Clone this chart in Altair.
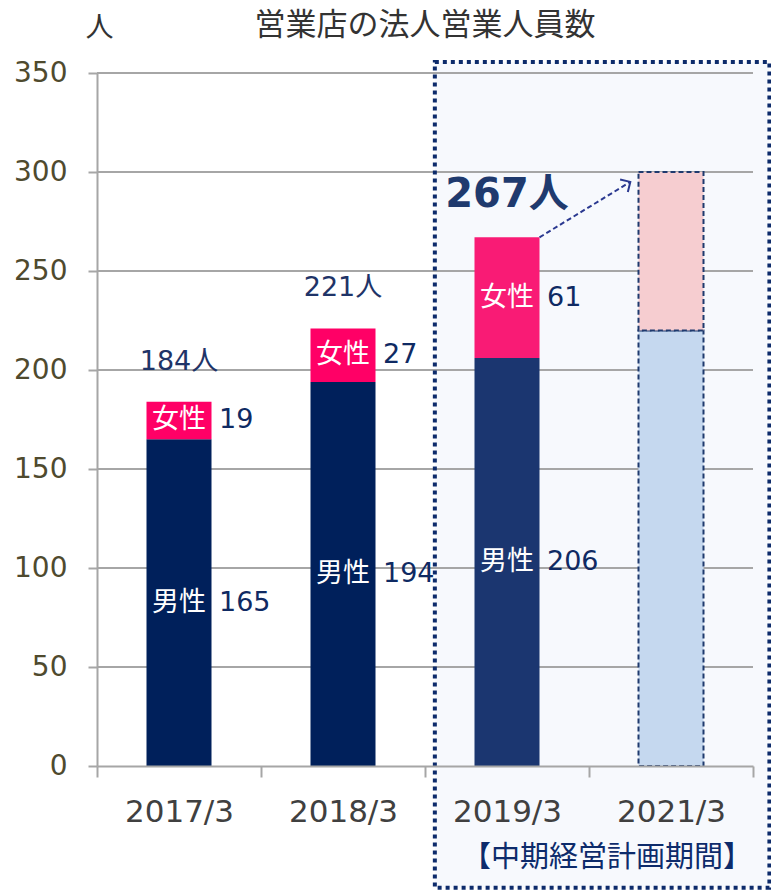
import math
import altair as alt
import pandas as pd

# ---- data ----
categories = ["2017/3", "2018/3", "2019/3", "2021/3"]
male = [165, 194, 206, 220]
female = [19, 27, 61, 80]
is_plan = [False, False, False, True]
y_ticks = [0, 50, 100, 150, 200, 250, 300, 350]
period_label = "【中期経営計画期間】"
period_cats = ["2019/3", "2021/3"]
highlight_cat = "2019/3"
title_text = "営業店の法人営業人員数"
unit_text = "人"

FONT = "Noto Sans CJK JP"
NUMFONT = "DejaVu Sans, Noto Sans CJK JP"
W, H = 656, 693
BAR = 65

# ---- tables ----
seg_rows = []
for c, m, f, p in zip(categories, male, female, is_plan):
    seg_rows.append(dict(cat=c, key=c + "|男性", y0=0, y1=m, plan=p))
    seg_rows.append(dict(cat=c, key=c + "|女性", y0=m, y1=m + f, plan=p))
seg = pd.DataFrame(seg_rows)

keys = [r["key"] for r in seg_rows]
col_map = {
    "2017/3|男性": "#00205b", "2017/3|女性": "#ff0066",
    "2018/3|男性": "#00205b", "2018/3|女性": "#ff0066",
    "2019/3|男性": "#1b3670", "2019/3|女性": "#f91b75",
    "2021/3|男性": "#c5d8ef", "2021/3|女性": "#f6cdd0",
}
color_scale = alt.Scale(domain=keys, range=[col_map[k] for k in keys])

lab_rows = []
for c, m, f, p in zip(categories, male, female, is_plan):
    if p:
        continue
    lab_rows.append(dict(cat=c, name="男性", val=str(m), ypos=m / 2))
    lab_rows.append(dict(cat=c, name="女性", val=str(f), ypos=m + f / 2))
labs = pd.DataFrame(lab_rows)

tot = pd.DataFrame([
    dict(cat=c, total=m + f, txt=f"{m + f}人", hl=(c == highlight_cat))
    for c, m, f, p in zip(categories, male, female, is_plan) if not p
])

xband = alt.Scale(domain=categories, paddingInner=0, paddingOuter=0)
yscale = alt.Scale(domain=[0, 350], nice=False, zero=True)
xq = alt.Scale(domain=[0, len(categories)], nice=False, zero=False)

yaxis = alt.Axis(values=y_ticks, labelFont=NUMFONT, labelFontSize=28,
                 labelColor="#4f4a2e", labelPadding=21, tickSize=9,
                 tickColor="#a6a6a6", tickWidth=2, domainColor="#a6a6a6",
                 domainWidth=2, grid=False, title=unit_text, zindex=1,
                 titleAngle=0, titleX=2, titleY=-45, titleAlign="center",
                 titleBaseline="middle", titleFont=FONT, titleFontSize=28,
                 titleFontWeight="normal", titleColor="#333333")


def Y(field):
    return alt.Y(field, scale=yscale, axis=yaxis)


# ---- highlighted period box (quantitative overlay on band indices) ----
i0 = categories.index(period_cats[0])
i1 = categories.index(period_cats[-1]) + 1
box = pd.DataFrame([dict(x0=i0 + 0.06, x1=i1 + 0.1, ya=355.5, yb=-61.5,
                         xm=(i0 + i1) / 2 + 0.11, ym=-46.5, txt=period_label)])

box_fill = alt.Chart(box).mark_rect(fill="#f7f9fd", stroke=None).encode(
    x=alt.X("x0:Q", scale=xq, axis=None), x2="x1:Q",
    y=Y("ya:Q"), y2="yb:Q")

box_border = alt.Chart(box).mark_rect(
    fill=None, fillOpacity=0, stroke="#0d2b6b", strokeWidth=4, strokeDash=[4, 4]
).encode(
    x=alt.X("x0:Q", scale=xq, axis=None), x2="x1:Q",
    y=Y("ya:Q"), y2="yb:Q")

box_text = alt.Chart(box).mark_text(
    font=FONT, fontSize=29, color="#0d2b6b", baseline="middle", align="center"
).encode(
    x=alt.X("xm:Q", scale=xq, axis=None),
    y=Y("ym:Q"), text="txt:N")

# ---- gridlines ----
grid = alt.Chart(pd.DataFrame(dict(v=y_ticks[1:]))).mark_rule(
    color="#a6a6a6", strokeWidth=2
).encode(x=alt.value(0), x2=alt.value(W), y=Y("v:Q"))

# ---- bars ----
bars_actual = alt.Chart(seg[~seg.plan]).mark_bar(size=BAR).encode(
    x=alt.X("cat:N", scale=xband, sort=categories, title=None,
            axis=alt.Axis(labelFont=NUMFONT, labelFontSize=31, labelColor="#404040",
                          labelPadding=20, tickBand="extent", tickSize=11,
                          tickColor="#a6a6a6", tickWidth=2, domainColor="#a6a6a6",
                          domainWidth=2, labelAngle=0, grid=False, zindex=1)),
    y=Y("y0:Q"), y2="y1:Q",
    color=alt.Color("key:N", scale=color_scale, legend=None))

bars_plan = alt.Chart(seg[seg.plan]).mark_bar(
    size=BAR, stroke="#1f3a6e", strokeWidth=2, strokeDash=[5, 3]
).encode(
    x=alt.X("cat:N", scale=xband, sort=categories, axis=None),
    y=Y("y0:Q"), y2="y1:Q",
    color=alt.Color("key:N", scale=color_scale, legend=None))

# ---- labels ----
name_text = alt.Chart(labs).mark_text(
    font=FONT, fontSize=27, color="white", align="center", baseline="middle"
).encode(x=alt.X("cat:N", scale=xband, sort=categories, axis=None),
         y=Y("ypos:Q"), text="name:N")

val_text = alt.Chart(labs).mark_text(
    font=NUMFONT, fontSize=27, color="#0f2a63", align="left", baseline="middle", dx=40
).encode(x=alt.X("cat:N", scale=xband, sort=categories, axis=None),
         y=Y("ypos:Q"), text="val:N")

tot_norm = alt.Chart(tot[~tot.hl]).mark_text(
    font=NUMFONT, fontSize=27, color="#1f3468", align="center", baseline="bottom", dy=-26
).encode(x=alt.X("cat:N", scale=xband, sort=categories, axis=None),
         y=Y("total:Q"), text="txt:N")

tot_hl = alt.Chart(tot[tot.hl]).mark_text(
    font=NUMFONT, fontSize=40, fontWeight="bold", color="#1f3a6e", align="center",
    baseline="bottom", dy=-22
).encode(x=alt.X("cat:N", scale=xband, sort=categories, axis=None),
         y=Y("total:Q"), text="txt:N")

# ---- arrow from 2019 total toward 2021 target ----
hi = categories.index(highlight_cat)
pi = len(categories) - 1
half = BAR / 2 / (W / len(categories))
start_x, start_y = hi + 0.5 + half, male[hi] + female[hi]
end_x, end_y = pi + 0.5 - half - 0.05, male[pi] + female[pi] - 5
arrow = pd.DataFrame([dict(x0=start_x, y0=start_y, x1=end_x, y1=end_y)])
px_dx = (end_x - start_x) * W / len(categories)
px_dy = (end_y - start_y) * H / 350
ang = (360 - math.degrees(math.atan2(px_dy, px_dx))) % 360

arrow_line = alt.Chart(arrow).mark_rule(
    color="#2b3990", strokeWidth=2, strokeDash=[5, 3]
).encode(x=alt.X("x0:Q", scale=xq, axis=None), x2="x1:Q",
         y=Y("y0:Q"), y2="y1:Q")

arrow_head = alt.Chart(arrow).mark_point(
    shape="M -1 -1 L 0 0 L -1 1", filled=False, stroke="#2b3990",
    strokeWidth=2, size=220, angle=ang, opacity=1
).encode(x=alt.X("x1:Q", scale=xq, axis=None), y=Y("y1:Q"))

chart = alt.layer(
    box_fill, grid, bars_actual, bars_plan, name_text, val_text,
    tot_norm, tot_hl, arrow_line, arrow_head, box_border, box_text
).resolve_scale(x="independent").properties(
    width=W, height=H,
    title=alt.TitleParams(title_text, font=FONT, fontSize=31, fontWeight="normal",
                          color="#333333", anchor="middle", offset=14, dy=42),
    autosize=alt.AutoSizeParams(type="none"),
    padding={"left": 97, "top": 73, "right": 18, "bottom": 124},
).configure_view(stroke=None)

chart.save("out.html", embed_options={"renderer": "svg", "actions": False})
